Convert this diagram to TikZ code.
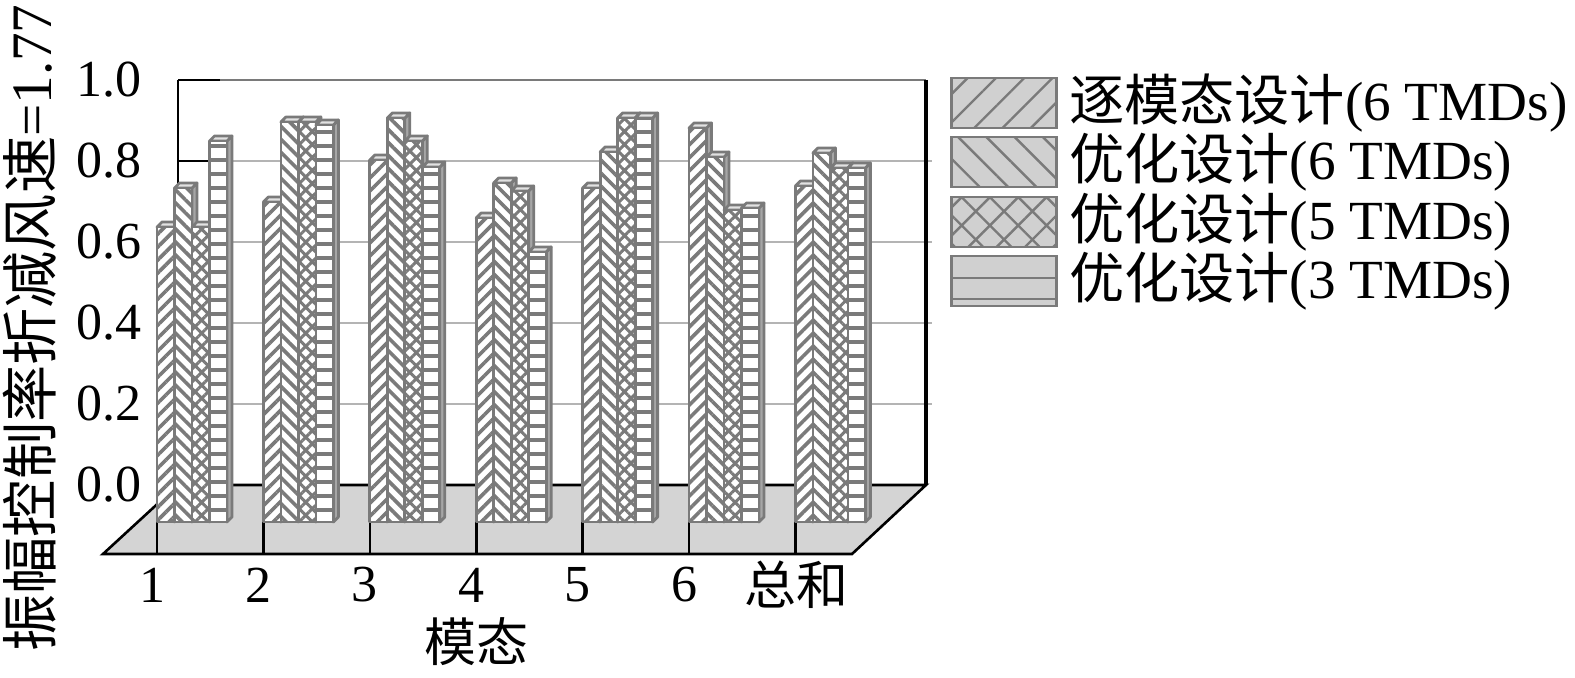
\documentclass[tikz,border=0pt]{standalone}
\usepackage{fontspec}
\setmainfont{Liberation Serif}
\newfontfamily\cjk{Noto Sans CJK SC}
\usetikzlibrary{positioning,patterns.meta}
\definecolor{barline}{HTML}{7A7A7A}
\definecolor{sidegray}{HTML}{A6A6A6}
\definecolor{topgray}{HTML}{E2E2E2}
\definecolor{floorgray}{HTML}{D4D4D4}
\definecolor{gridgray}{HTML}{B4B4B4}
\definecolor{keygray}{HTML}{D0D0D0}
\tikzset{
  lbl/.style={inner sep=0pt, font=\fontsize{26pt}{30pt}\selectfont},
  leglbl/.style={inner sep=0pt, font=\fontsize{27.6pt}{32pt}\selectfont},
  barface/.style={draw=barline, line width=1.4pt, line join=round},
  pat1/.style={pattern={Lines[angle=45,distance=4.6pt,line width=1.8pt]}},
  pat2/.style={pattern={Lines[angle=-45,distance=4.6pt,line width=1.8pt]}},
  pat3/.style={pattern={Hatch[angle=45,distance=4.6pt,line width=1.5pt]}},
  pat4/.style={pattern={Lines[angle=0,distance=7pt,line width=2pt]}},
  keybox/.style={draw=barline, line width=1.2pt, preaction={fill=keygray},
    pattern color=barline, minimum width=52.5pt, minimum height=25pt, inner sep=0pt},
  key1/.style={pattern={Lines[angle=45,distance=10pt,line width=1.2pt]}},
  key2/.style={pattern={Lines[angle=-45,distance=10pt,line width=1.2pt]}},
  key3/.style={pattern={Hatch[angle=45,distance=10pt,line width=1.2pt]}},
}
% one bar: left x, top y, pattern
\newcommand{\tmdbar}[3]{%
  \draw[barface, fill=sidegray] (#1+17.5,522) -- (#1+17.5,#2) -- (#1+22.5,#2-5) -- (#1+22.5,517) -- cycle;
  \draw[barface, fill=topgray] (#1,#2) -- (#1+17.5,#2) -- (#1+22.5,#2-5) -- (#1+5,#2-5) -- cycle;
  \draw[barface, preaction={fill=white}, #3, pattern color=barline] (#1,522) rectangle (#1+17.5,#2);
}
\begin{document}
\begin{tikzpicture}[x=0.5pt, y=-0.5pt]
  \useasboundingbox (0,0) rectangle (1575,678);

  % back wall
  \foreach \gy in {161,242,323,404}
    \draw[gridgray, line width=1.2pt] (178,\gy) -- (932,\gy);
  \draw[barline, line width=1.2pt] (178,80) -- (926,80);
  \foreach \gy in {80,161,242,323,404}
    \draw[black, line width=1.2pt] (178,\gy) -- (220,\gy);
  \draw[black, line width=1.3pt] (178,80) -- (178,485);
  \draw[black, line width=1.6pt] (926,80) -- (926,485);

  % floor
  \draw[black, line width=1.3pt, fill=floorgray] (178,485) -- (926,485) -- (852,554) -- (103,554) -- cycle;
  \begin{scope}
    \clip (178,485) -- (926,485) -- (852,554) -- (103,554) -- cycle;
    \foreach \g in {0,...,6}
      \draw[black, line width=1.3pt] (157+106.4*\g,480) -- (157+106.4*\g,556);
  \end{scope}

  % bars
  \foreach \g/\ta/\tb/\tc/\td in {0/227/188/227/141, 1/202/122/122/125,
      2/160/118/141/167, 3/218/183/191/252, 4/188/152/118/118,
      5/128/157/210/208, 6/186/153/168/168}{
    \pgfmathsetmacro{\gx}{157+106.4*\g}
    \tmdbar{\gx}{\ta}{pat1}
    \tmdbar{\gx+17.5}{\tb}{pat2}
    \tmdbar{\gx+35}{\tc}{pat3}
    \tmdbar{\gx+52.5}{\td}{pat4}
  }

  % y axis
  \foreach \gy/\v [count=\i] in {80/1.0,161/0.8,242/0.6,323/0.4,404/0.2,485/0.0}
    \node[lbl, anchor=east] (ytick\i) at (142,\gy) {\v};
  \node[lbl, rotate=90, font=\fontsize{28.6pt}{32pt}\selectfont] (ytitle) at (30,328) {{\cjk 振幅控制率折减风速}=1.77};

  % x axis
  \foreach \m [count=\i from 0] in {1,2,3,4,5,6}
    \node[lbl] (xtick\m) at (152+106.4*\i,585) {\m};
  \node[lbl] (xtick7) at (796,585) {\cjk 总和};
  \node[lbl] (xtitle) at (476,642) {\cjk 模态};

  % legend
  \node[keybox, key1] (key1) at (1004,103) {};
  \node[keybox, key2] (key2) at (1004,162) {};
  \node[keybox, key3] (key3) at (1004,222) {};
  \node[keybox] (key4) at (1004,281) {};
  \draw[barline, line width=1.2pt] (key4.west |- 0,278) -- (key4.east |- 0,278);
  \draw[barline, line width=1.2pt] (key4.west |- 0,299) -- (key4.east |- 0,299);
  \node[leglbl, right=5.5pt of key1] (leg1) {{\cjk 逐模态设计}(6 TMDs)};
  \node[leglbl, right=5.5pt of key2] (leg2) {{\cjk 优化设计}(6 TMDs)};
  \node[leglbl, right=5.5pt of key3] (leg3) {{\cjk 优化设计}(5 TMDs)};
  \node[leglbl, right=5.5pt of key4] (leg4) {{\cjk 优化设计}(3 TMDs)};
\end{tikzpicture}
\end{document}
